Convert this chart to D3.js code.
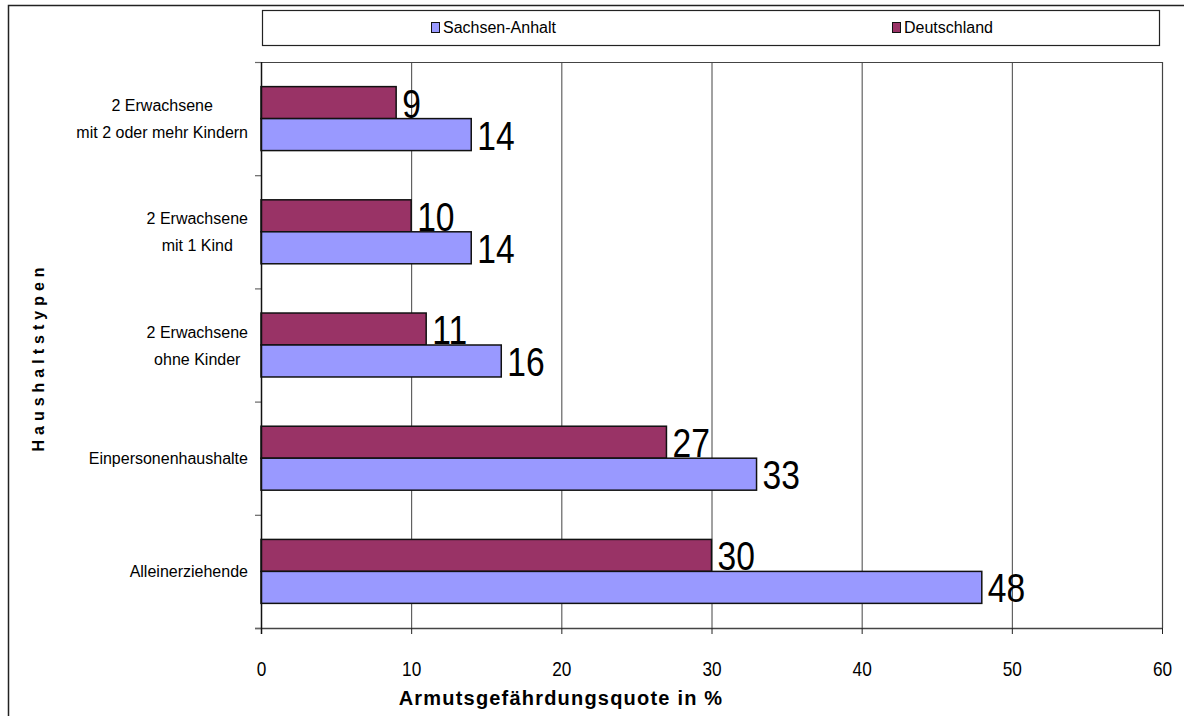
<!DOCTYPE html>
<html>
<head>
  <meta charset='utf-8'>
  <title>Armutsgefährdungsquote nach Haushaltstypen</title>
  <script src="https://d3js.org/d3.v7.min.js"></script>
  <style>
    body { margin: 0; background: #fff; }
    text { font-family: 'Liberation Sans', Arial, sans-serif; }
  </style>
</head>
<body>
<svg width=1184 height=716></svg>
<script>

  // categories, top to bottom (each entry = lines of the label)
  const categories = [
    ['2 Erwachsene', 'mit 2 oder mehr Kindern'],
    ['2 Erwachsene', 'mit 1 Kind'],
    ['2 Erwachsene', 'ohne Kinder'],
    ['Einpersonenhaushalte'],
    ['Alleinerziehende']
  ];
  const seriesNames = ['Deutschland', 'Sachsen-Anhalt'];
  const sachsenAnhalt = [14, 14, 16, 33, 48];
  const deutschland = [9, 10, 11, 27, 30];
  const xTicks = [0, 10, 20, 30, 40, 50, 60];

  const colors = { 'Sachsen-Anhalt': '#9999ff', 'Deutschland': '#993366' };

  const svg = d3.select('svg');
  const pLeft = 261, pRight = 1162, pTop = 62, pBottom = 628;
  const narrow = 0.82; // fake a condensed face, none is installed

  // outer frame
  svg.append('path')
    .attr('d', `M8.5,${716} V5.5 H1184`)
    .attr('fill', 'none').attr('stroke', '#222').attr('stroke-width', 1.5);

  const keys = categories.map((d, i) => i);
  const x = d3.scaleLinear().domain([0, 60]).range([pLeft, pRight]);
  const y0 = d3.scaleBand().domain(keys).range([pTop, pBottom]);
  const y1 = d3.scaleBand().domain(seriesNames).range([0, y0.bandwidth()]).paddingOuter(0.77);

  const rows = keys.map(i => ({ i, values: { 'Sachsen-Anhalt': sachsenAnhalt[i], 'Deutschland': deutschland[i] } }));

  // grid lines
  svg.append('g').selectAll('line')
    .data(xTicks.slice(1, -1))
    .enter().append('line')
      .attr('x1', d => x(d) + 0.5).attr('x2', d => x(d) + 0.5)
      .attr('y1', pTop).attr('y2', pBottom)
      .attr('stroke', '#444').attr('stroke-width', 1);

  // plot frame top/right
  svg.append('path')
    .attr('d', `M${pLeft},${pTop + 0.5} H${pRight + 0.5} V${pBottom}`)
    .attr('fill', 'none').attr('stroke', '#444').attr('stroke-width', 1.2);

  // bars
  const groups = svg.append('g').selectAll('g')
    .data(rows)
    .enter().append('g')
      .attr('transform', d => `translate(0,${y0(d.i)})`);

  groups.selectAll('rect')
    .data(d => seriesNames.map(s => ({ s, v: d.values[s] })))
    .enter().append('rect')
      .attr('x', x(0))
      .attr('y', d => y1(d.s))
      .attr('width', d => x(d.v) - x(0))
      .attr('height', y1.bandwidth())
      .attr('fill', d => colors[d.s])
      .attr('stroke', '#111').attr('stroke-width', 1.5);

  groups.selectAll('text.val')
    .data(d => seriesNames.map(s => ({ s, v: d.values[s] })))
    .enter().append('text')
      .attr('class', 'val')
      .attr('transform', d => `translate(${x(d.v) + 6},${y1(d.s) + y1.bandwidth() - 1}) scale(${narrow},1)`)
      .attr('font-size', 41)
      .attr('fill', '#000')
      .text(d => d.v);

  // x axis
  const xAxis = svg.append('g')
    .attr('transform', `translate(0,${pBottom})`)
    .call(d3.axisBottom(x).tickValues(xTicks).tickSize(6).tickPadding(0));
  xAxis.select('.domain').attr('stroke', '#444').attr('stroke-width', 1.5).attr('d', `M${pLeft - 6},0.5H${pRight}`);
  xAxis.selectAll('.tick line').attr('stroke', '#222');
  xAxis.selectAll('.tick text')
    .attr('y', null).attr('dy', null)
    .attr('transform', `translate(0,48) scale(${narrow},1)`)
    .attr('font-size', 21)
    .attr('font-family', "'Liberation Sans', Arial, sans-serif")
    .attr('fill', '#000');

  // y axis (ticks between categories)
  const yEdges = keys.map(i => y0(i)).concat([pBottom]);
  svg.append('g').selectAll('line')
    .data(yEdges)
    .enter().append('line')
      .attr('x1', pLeft - 6).attr('x2', pLeft)
      .attr('y1', d => d + 0.5).attr('y2', d => d + 0.5)
      .attr('stroke', '#666').attr('stroke-width', 1.2);
  svg.append('line')
    .attr('x1', pLeft + 0.5).attr('x2', pLeft + 0.5)
    .attr('y1', pTop).attr('y2', pBottom + 6)
    .attr('stroke', '#111').attr('stroke-width', 1.5);

  // category labels
  const lh = 27;
  svg.append('g').selectAll('text')
    .data(rows)
    .enter().append('text')
      .attr('font-size', 16)
      .attr('fill', '#000')
      .attr('text-anchor', 'middle')
      .each(function (d) {
        const lines = categories[d.i];
        const cy = y0(d.i) + y0.bandwidth() / 2;
        const t = d3.select(this);
        lines.forEach((l, k) => {
          t.append('tspan')
            .attr('x', 0)
            .attr('y', cy + (k - (lines.length - 1) / 2) * lh + 6)
            .text(l);
        });
      })
      .attr('transform', function () {
        const w = this.getBBox().width;
        return `translate(${248 - w / 2},0)`;
      });

  // axis titles
  svg.append('text')
    .attr('transform', `translate(44,357) rotate(-90)`)
    .attr('text-anchor', 'middle')
    .attr('font-size', 16).attr('font-weight', 'bold')
    .attr('letter-spacing', 5)
    .text('Haushaltstypen');

  svg.append('text')
    .attr('x', 561).attr('y', 705)
    .attr('text-anchor', 'middle')
    .attr('font-size', 20).attr('font-weight', 'bold')
    .attr('letter-spacing', 1.2)
    .text('Armutsgefährdungsquote in %');

  // legend
  const lg = svg.append('g');
  lg.append('rect')
    .attr('x', 262.5).attr('y', 10.5).attr('width', 897).attr('height', 35)
    .attr('fill', '#fff').attr('stroke', '#222').attr('stroke-width', 1.2);
  const legendItems = [
    { s: 'Sachsen-Anhalt', x: 431 },
    { s: 'Deutschland', x: 892 }
  ];
  legendItems.forEach(it => {
    lg.append('rect')
      .attr('x', it.x + 0.5).attr('y', 22.5).attr('width', 8).attr('height', 10)
      .attr('fill', colors[it.s]).attr('stroke', '#111').attr('stroke-width', 1);
    lg.append('text')
      .attr('x', it.x + 12).attr('y', 33)
      .attr('font-size', 16).attr('fill', '#000')
      .text(it.s);
  });

</script>
</body>
</html>
